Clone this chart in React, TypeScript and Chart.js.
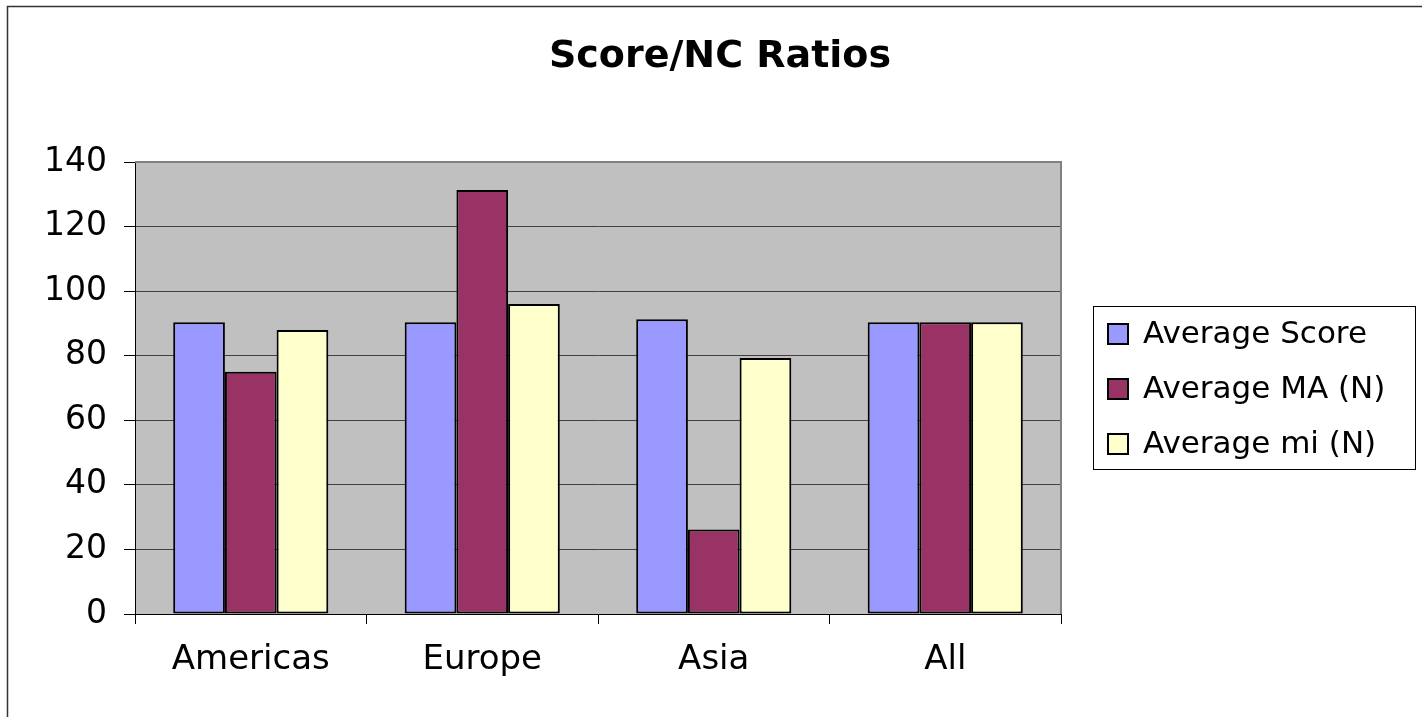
import React, { useEffect, useRef } from "react";
import { Chart, registerables, ChartConfiguration, Plugin } from "chart.js";

Chart.register(...registerables);

const chartTitle = "Score/NC Ratios";
const regions = ["Americas", "Europe", "Asia", "All"];
const seriesNames = ["Average Score", "Average MA (N)", "Average mi (N)"];
const averageScore = [90.4, 90.4, 91.3, 90.4];
const averageMA = [75.0, 131.3, 26.2, 90.4];
const averageMi = [88.0, 96.0, 79.3, 90.4];
const yTicks = [0, 20, 40, 60, 80, 100, 120, 140];

const FONT = "'DejaVu Sans', sans-serif";

// grey plot background, frame, title and boxed legend (Excel style)
const excelLook: Plugin<"bar"> = {
  id: "excelLook",
  beforeDraw(chart) {
    const { ctx, chartArea: a } = chart;
    ctx.save();
    ctx.fillStyle = "#c0c0c0";
    ctx.fillRect(a.left, a.top, a.right - a.left, a.bottom - a.top);
    ctx.restore();
  },
  afterDraw(chart) {
    const { ctx, chartArea: a } = chart;
    ctx.save();

    // plot area top / right edge
    ctx.strokeStyle = "#808080";
    ctx.lineWidth = 2;
    ctx.beginPath();
    ctx.moveTo(a.left, a.top);
    ctx.lineTo(a.right, a.top);
    ctx.lineTo(a.right, a.bottom);
    ctx.stroke();

    // outer frame
    ctx.strokeStyle = "#333";
    ctx.lineWidth = 1.5;
    ctx.beginPath();
    ctx.moveTo(7.5, chart.height);
    ctx.lineTo(7.5, 6.5);
    ctx.lineTo(chart.width, 6.5);
    ctx.stroke();

    // title
    ctx.fillStyle = "#000";
    ctx.font = `bold 38px ${FONT}`;
    ctx.textAlign = "center";
    ctx.textBaseline = "middle";
    ctx.fillText(chartTitle, 720, 57);

    // legend
    ctx.strokeStyle = "#000";
    ctx.lineWidth = 1;
    ctx.strokeRect(1093.5, 306.5, 322, 163);
    ctx.font = `31px ${FONT}`;
    ctx.textAlign = "left";
    chart.data.datasets.forEach((ds, i) => {
      const cy = 334 + i * 55;
      ctx.fillStyle = ds.backgroundColor as string;
      ctx.fillRect(1108, cy - 10, 20, 20);
      ctx.lineWidth = 2;
      ctx.strokeRect(1108, cy - 10, 20, 20);
      ctx.fillStyle = "#000";
      ctx.fillText(ds.label ?? "", 1143, cy + 1);
    });

    ctx.restore();
  },
};

function ScoreRatioChart() {
  const chartRef = useRef<HTMLCanvasElement | null>(null);
  const chartInstance = useRef<Chart | null>(null);

  useEffect(() => {
    if (!chartRef.current) return;
    if (chartInstance.current) chartInstance.current.destroy();

    const barStyle = {
      borderColor: "#000",
      borderWidth: 2,
      borderSkipped: false as const,
      categoryPercentage: 0.67,
      barPercentage: 1.0,
    };

    const config: ChartConfiguration<"bar"> = {
      type: "bar",
      data: {
        labels: regions,
        datasets: [
          { label: seriesNames[0], data: averageScore, backgroundColor: "#9999ff", ...barStyle },
          { label: seriesNames[1], data: averageMA, backgroundColor: "#993366", ...barStyle },
          { label: seriesNames[2], data: averageMi, backgroundColor: "#ffffcc", ...barStyle },
        ],
      },
      options: {
        responsive: true,
        maintainAspectRatio: false,
        animation: false,
        layout: { padding: { left: 0, top: 162, right: 361, bottom: 0 } },
        plugins: {
          legend: { display: false },
          title: { display: false },
          tooltip: { enabled: false },
        },
        scales: {
          x: {
            afterFit: (scale) => {
              scale.height = 103;
            },
            grid: {
              display: true,
              offset: true,
              drawOnChartArea: false,
              drawTicks: true,
              tickLength: 10,
              tickColor: "#000",
            },
            border: { display: true, color: "#000", width: 1 },
            ticks: {
              color: "#000",
              font: { family: FONT, size: 34 },
              padding: 16,
            },
          },
          y: {
            min: 0,
            max: 140,
            afterFit: (scale) => {
              scale.width = 135;
            },
            afterBuildTicks: (scale) => {
              scale.ticks = yTicks.map((v) => ({ value: v }));
            },
            grid: {
              color: "#404040",
              lineWidth: 1,
              drawTicks: true,
              tickLength: 11,
              tickColor: "#000",
            },
            border: { display: true, color: "#000", width: 1 },
            ticks: {
              color: "#000",
              font: { family: FONT, size: 33 },
              padding: 17,
            },
          },
        },
      },
      plugins: [excelLook],
    };

    chartInstance.current = new Chart(chartRef.current, config);

    return () => {
      if (chartInstance.current) {
        chartInstance.current.destroy();
        chartInstance.current = null;
      }
    };
  }, []);

  return (
    <div style={{ position: "fixed", left: 0, top: 0, width: 1422, height: 717, background: "#fff" }}>
      <canvas ref={chartRef} />
    </div>
  );
}

export default function App() {
  return <ScoreRatioChart />;
}
